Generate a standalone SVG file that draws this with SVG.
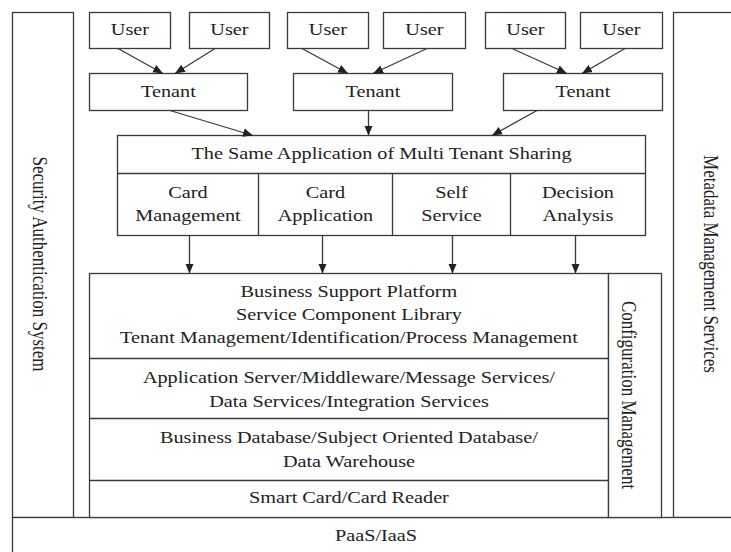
<svg xmlns="http://www.w3.org/2000/svg" width="731" height="552" viewBox="0 0 731 552">
  <style>
    .box { fill: #ffffff; stroke: #3a3a3a; stroke-width: 1.3; }
    .ln { fill: none; stroke: #3a3a3a; stroke-width: 1.3; }
    text { font-family: "Liberation Serif", "Times New Roman", serif; font-size: 17px; fill: #222222; }
    .t { text-anchor: middle; transform-box: fill-box; transform-origin: 50% 50%; transform: scaleX(1.19); }
    .v { text-anchor: middle; dominant-baseline: central; }
  </style>
  <defs>
    <marker id="arrow" markerUnits="userSpaceOnUse" markerWidth="10" markerHeight="10" viewBox="0 0 10 10" refX="10" refY="5" orient="auto">
      <path d="M0,0.8 L10,5 L0,9.2 Z" fill="#222222"/>
    </marker>
  </defs>

  <rect width="731" height="552" fill="#ffffff"/>

  <!-- side pillars and base layer -->
  <g id="security">
    <rect class="box" x="12.5" y="12.5" width="61" height="505"/>
    <text class="v" transform="translate(40 264) scale(1.19 1) rotate(90)">Security Authentication System</text>
  </g>
  <g id="metadata">
    <rect class="box" x="673.5" y="12.5" width="70" height="505"/>
    <text class="v" transform="translate(711 264) scale(1.19 1) rotate(90)">Metadata Management Services</text>
  </g>
  <g id="paas">
    <rect class="box" x="12.5" y="517.5" width="731" height="45"/>
    <text class="t" x="376" y="541">PaaS/IaaS</text>
  </g>

  <!-- users -->
  <g id="user1"><rect class="box" x="89.5" y="12.5" width="81" height="36"/><text class="t" x="130" y="35">User</text></g>
  <g id="user2"><rect class="box" x="189.5" y="12.5" width="80" height="36"/><text class="t" x="229.5" y="35">User</text></g>
  <g id="user3"><rect class="box" x="287.5" y="12.5" width="81" height="36"/><text class="t" x="328" y="35">User</text></g>
  <g id="user4"><rect class="box" x="383.5" y="12.5" width="82" height="36"/><text class="t" x="424.5" y="35">User</text></g>
  <g id="user5"><rect class="box" x="485.5" y="12.5" width="80" height="36"/><text class="t" x="525.5" y="35">User</text></g>
  <g id="user6"><rect class="box" x="580.5" y="12.5" width="82" height="36"/><text class="t" x="621.5" y="35">User</text></g>

  <!-- tenants -->
  <g id="tenant1"><rect class="box" x="89.5" y="73.5" width="158" height="37"/><text class="t" x="168.5" y="97.5">Tenant</text></g>
  <g id="tenant2"><rect class="box" x="293.5" y="73.5" width="159" height="37"/><text class="t" x="373" y="97.5">Tenant</text></g>
  <g id="tenant3"><rect class="box" x="503.5" y="73.5" width="159" height="37"/><text class="t" x="583" y="97.5">Tenant</text></g>

  <!-- shared application with its four modules -->
  <g id="shared-app">
    <rect class="box" x="117.5" y="135.5" width="528" height="100"/>
    <path class="ln" d="M117.5,173.5 H645.5 M258.5,173.5 V235.5 M392.5,173.5 V235.5 M510.5,173.5 V235.5"/>
    <text class="t" x="381.5" y="159.5">The Same Application of Multi Tenant Sharing</text>
  </g>
  <g id="card-management">
    <text class="t" x="188" y="198">Card</text>
    <text class="t" x="188" y="221">Management</text>
  </g>
  <g id="card-application">
    <text class="t" x="325.5" y="198">Card</text>
    <text class="t" x="325.5" y="221">Application</text>
  </g>
  <g id="self-service">
    <text class="t" x="451.5" y="198">Self</text>
    <text class="t" x="451.5" y="221">Service</text>
  </g>
  <g id="decision-analysis">
    <text class="t" x="578" y="198">Decision</text>
    <text class="t" x="578" y="221">Analysis</text>
  </g>

  <!-- platform stack -->
  <g id="platform">
    <rect class="box" x="89.5" y="273.5" width="519" height="244"/>
    <path class="ln" d="M89.5,358.5 H608.5 M89.5,418.5 H608.5 M89.5,480.5 H608.5"/>
  </g>
  <g id="business-support">
    <text class="t" x="349" y="297">Business Support Platform</text>
    <text class="t" x="349" y="320">Service Component Library</text>
    <text class="t" x="349" y="343.5">Tenant Management/Identification/Process Management</text>
  </g>
  <g id="middleware">
    <text class="t" x="349" y="383">Application Server/Middleware/Message Services/</text>
    <text class="t" x="349" y="407">Data Services/Integration Services</text>
  </g>
  <g id="database">
    <text class="t" x="349" y="443">Business Database/Subject Oriented Database/</text>
    <text class="t" x="349" y="467">Data Warehouse</text>
  </g>
  <g id="smart-card">
    <text class="t" x="349" y="503">Smart Card/Card Reader</text>
  </g>
  <g id="configuration">
    <rect class="box" x="608.5" y="273.5" width="53" height="244"/>
    <text class="v" transform="translate(629.5 395) scale(1.19 1) rotate(90)">Configuration Management</text>
  </g>

  <!-- connectors -->
  <g id="connectors" class="ln" marker-end="url(#arrow)">
    <line x1="118" y1="48.5" x2="163" y2="73.5"/>
    <line x1="215" y1="48.5" x2="175" y2="73.5"/>
    <line x1="302" y1="48.5" x2="348" y2="73.5"/>
    <line x1="427" y1="48.5" x2="373" y2="73.5"/>
    <line x1="512" y1="48.5" x2="567" y2="73.5"/>
    <line x1="625" y1="48.5" x2="582" y2="73.5"/>
    <line x1="170" y1="110.5" x2="253" y2="135.5"/>
    <line x1="368.5" y1="110.5" x2="368.5" y2="135.5"/>
    <line x1="537" y1="110.5" x2="492" y2="135.5"/>
    <line x1="189.5" y1="235.5" x2="189.5" y2="273.5"/>
    <line x1="322.5" y1="235.5" x2="322.5" y2="273.5"/>
    <line x1="452.5" y1="235.5" x2="452.5" y2="273.5"/>
    <line x1="575.5" y1="235.5" x2="575.5" y2="273.5"/>
  </g>
</svg>
